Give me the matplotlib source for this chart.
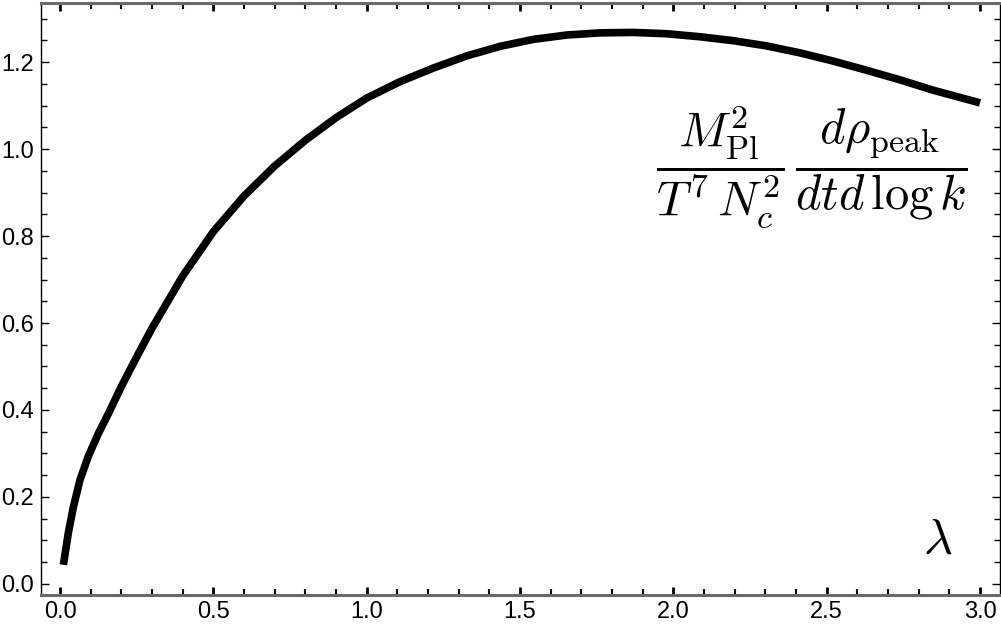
import numpy as np
import matplotlib
matplotlib.use('Agg')
import matplotlib.pyplot as plt
from matplotlib.ticker import MultipleLocator

plt.rcParams['font.family'] = 'Liberation Sans'
plt.rcParams['mathtext.fontset'] = 'cm'

# values
lam = [0.011, 0.027, 0.043, 0.065, 0.092, 0.125, 0.158, 0.2, 0.25, 0.3, 0.4,
       0.5, 0.6, 0.7, 0.8, 0.9, 1.0, 1.109, 1.217, 1.326, 1.435, 1.543, 1.652,
       1.761, 1.869, 1.978, 2.087, 2.196, 2.304, 2.413, 2.522, 2.630, 2.739,
       2.848, 3.0]
rate = [0.044, 0.117, 0.175, 0.239, 0.293, 0.346, 0.392, 0.454, 0.522, 0.588,
        0.708, 0.810, 0.892, 0.961, 1.020, 1.072, 1.117, 1.155, 1.186, 1.214,
        1.236, 1.252, 1.262, 1.267, 1.268, 1.265, 1.258, 1.249, 1.237, 1.221,
        1.202, 1.181, 1.159, 1.135, 1.106]

W, H = 1001, 628
fig = plt.figure(figsize=(W / 100, H / 100), dpi=100)
ax = fig.add_axes([41 / W, (H - 595) / H, (999.5 - 41) / W, (595 - 2.5) / H])

ax.plot(lam, rate, color='black', lw=5.5, solid_capstyle='butt',
        solid_joinstyle='round')

ax.set_xlim(-0.062, 3.0635)
ax.set_ylim(-0.0253, 1.3368)

ax.xaxis.set_major_locator(MultipleLocator(0.5))
ax.xaxis.set_minor_locator(MultipleLocator(0.1))
ax.yaxis.set_major_locator(MultipleLocator(0.2))
ax.yaxis.set_minor_locator(MultipleLocator(0.05))
ax.xaxis.set_major_formatter(lambda v, p: f'{v:.1f}')
ax.yaxis.set_major_formatter(lambda v, p: f'{v:.1f}')

ax.tick_params(which='both', direction='in', top=True, right=True,
               labelsize=17, color='black')
ax.tick_params(axis='x', which='major', length=6, width=2, pad=4)
ax.tick_params(axis='x', which='minor', length=4, width=1.5)
ax.tick_params(axis='y', which='major', length=6, width=1, pad=5)
ax.tick_params(axis='y', which='minor', length=4, width=1)

for s in ['top', 'bottom']:
    ax.spines[s].set_color('#6a6a6a')
    ax.spines[s].set_linewidth(2.2)
for s in ['left', 'right']:
    ax.spines[s].set_color('black')
    ax.spines[s].set_linewidth(1.0)

ax.text(2.449, 0.959,
        r'$\dfrac{M_{\rm Pl}^2}{T^7\,N_c^2}\,\dfrac{d\rho_{\rm peak}}{dt d\,\log k}$',
        fontsize=35, ha='center', va='center')
ax.text(2.863, 0.101, r'$\lambda$', fontsize=36, ha='center', va='center')

fig.savefig('out.png', dpi=100)
